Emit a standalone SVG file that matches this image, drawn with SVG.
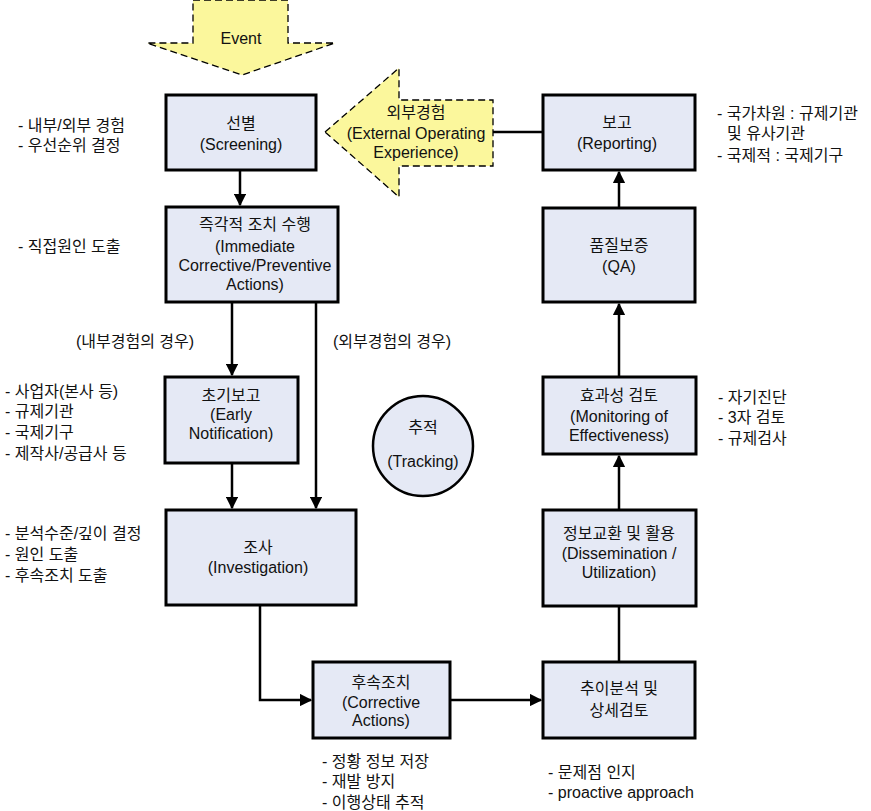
<svg xmlns="http://www.w3.org/2000/svg" width="871" height="811" viewBox="0 0 871 811">
<style>
text{font-family:"Liberation Sans","Noto Sans CJK KR",sans-serif;font-size:16px;fill:#111}
.c{text-anchor:middle}
.box{fill:#e5e9f5;stroke:#000;stroke-width:3}
.yel{fill:#fbf79c;stroke:#000;stroke-width:1.3;stroke-dasharray:7,4}
.ln{fill:none;stroke:#000;stroke-width:2.5}
</style>
<defs>
<marker id="ah" viewBox="0 0 10 10" refX="9" refY="5" markerWidth="5" markerHeight="5" orient="auto" markerUnits="strokeWidth">
<path d="M0,0 L10,5 L0,10 z" fill="#000"/>
</marker>
</defs>
<rect width="871" height="811" fill="#fff"/>
<g id="connectors">
<path class="ln" d="M240,170 V205" marker-end="url(#ah)"/>
<path class="ln" d="M232,302 V375" marker-end="url(#ah)"/>
<path class="ln" d="M316,302 V508" marker-end="url(#ah)"/>
<path class="ln" d="M232,463 V508" marker-end="url(#ah)"/>
<path class="ln" d="M260,605 V700 H311" marker-end="url(#ah)"/>
<path class="ln" d="M450,700 H541" marker-end="url(#ah)"/>
<path class="ln" d="M619,662 V606"/>
<path class="ln" d="M619,510 V456" marker-end="url(#ah)"/>
<path class="ln" d="M619,377 V304" marker-end="url(#ah)"/>
<path class="ln" d="M619,208 V172" marker-end="url(#ah)"/>
<path class="ln" d="M543,132 H493"/>
</g>
<g id="event">
<polygon class="yel" points="193,0 288,0 288,43 335,43 242,75 147,43 193,43"/>
<text class="c" x="241" y="44">Event</text>
</g>
<g id="external">
<polygon class="yel" points="325,132 399,68 399,100 493,100 493,166 399,166 399,197"/>
<text class="c" x="416" y="118">외부경험</text>
<text class="c" x="416" y="139">(External Operating</text>
<text class="c" x="416" y="158">Experience)</text>
</g>
<g id="screening">
<rect class="box" x="166" y="95" width="150" height="75"/>
<text class="c" x="241" y="129">선별</text>
<text class="c" x="241" y="150">(Screening)</text>
</g>
<g id="immediate">
<rect class="box" x="166" y="207" width="172" height="95"/>
<text class="c" x="255" y="230">즉각적 조치 수행</text>
<text class="c" x="255" y="252">(Immediate</text>
<text class="c" x="255" y="271">Corrective/Preventive</text>
<text class="c" x="255" y="290">Actions)</text>
</g>
<g id="early">
<rect class="box" x="165" y="377" width="133" height="86"/>
<text class="c" x="231" y="401">초기보고</text>
<text class="c" x="231" y="420">(Early</text>
<text class="c" x="231" y="439">Notification)</text>
</g>
<g id="investigation">
<rect class="box" x="166" y="510" width="190" height="95"/>
<text class="c" x="258" y="553">조사</text>
<text class="c" x="258" y="573">(Investigation)</text>
</g>
<g id="corrective">
<rect class="box" x="313" y="662" width="137" height="76"/>
<text class="c" x="381" y="688">후속조치</text>
<text class="c" x="381" y="708">(Corrective</text>
<text class="c" x="381" y="726">Actions)</text>
</g>
<g id="trend">
<rect class="box" x="543" y="662" width="152" height="76"/>
<text class="c" x="619" y="694">추이분석 및</text>
<text class="c" x="619" y="716">상세검토</text>
</g>
<g id="dissemination">
<rect class="box" x="543" y="510" width="153" height="96"/>
<text class="c" x="619" y="539">정보교환 및 활용</text>
<text class="c" x="619" y="559">(Dissemination /</text>
<text class="c" x="619" y="578">Utilization)</text>
</g>
<g id="monitoring">
<rect class="box" x="543" y="377" width="153" height="77"/>
<text class="c" x="619" y="401">효과성 검토</text>
<text class="c" x="619" y="422">(Monitoring of</text>
<text class="c" x="619" y="441">Effectiveness)</text>
</g>
<g id="qa">
<rect class="box" x="543" y="208" width="152" height="94"/>
<text class="c" x="619" y="251">품질보증</text>
<text class="c" x="619" y="272">(QA)</text>
</g>
<g id="reporting">
<rect class="box" x="543" y="95" width="152" height="75"/>
<text class="c" x="617" y="128">보고</text>
<text class="c" x="617" y="149">(Reporting)</text>
</g>
<g id="tracking">
<circle cx="423" cy="446" r="50" fill="#e5e9f5" stroke="#000" stroke-width="2.5"/>
<text class="c" x="423" y="433">추적</text>
<text class="c" x="423" y="467">(Tracking)</text>
</g>
<g id="notes">
<text x="18" y="131">- 내부/외부 경험</text>
<text x="18" y="151">- 우선순위 결정</text>
<text x="18" y="252">- 직접원인 도출</text>
<text x="76" y="347">(내부경험의 경우)</text>
<text x="333" y="347">(외부경험의 경우)</text>
<text x="5" y="397">- 사업자(본사 등)</text>
<text x="5" y="417">- 규제기관</text>
<text x="5" y="438">- 국제기구</text>
<text x="5" y="459">- 제작사/공급사 등</text>
<text x="5" y="539">- 분석수준/깊이 결정</text>
<text x="5" y="560">- 원인 도출</text>
<text x="5" y="581">- 후속조치 도출</text>
<text x="322" y="767">- 정황 정보 저장</text>
<text x="322" y="787">- 재발 방지</text>
<text x="322" y="808">- 이행상태 추적</text>
<text x="548" y="778">- 문제점 인지</text>
<text x="548" y="798">- proactive approach</text>
<text x="717" y="119">- 국가차원 : 규제기관</text>
<text x="727" y="139">및 유사기관</text>
<text x="717" y="161">- 국제적 : 국제기구</text>
<text x="718" y="403">- 자기진단</text>
<text x="718" y="423">- 3자 검토</text>
<text x="718" y="444">- 규제검사</text>
</g>
</svg>
